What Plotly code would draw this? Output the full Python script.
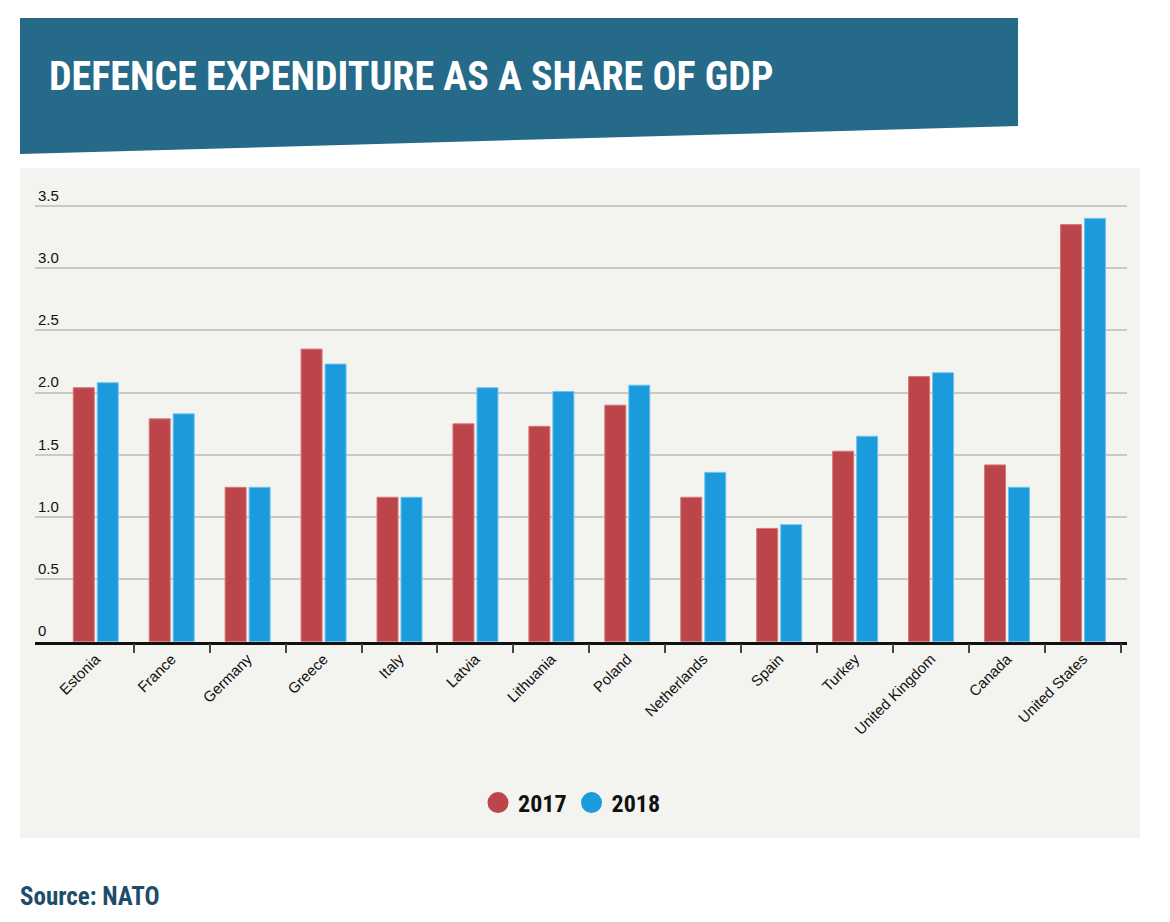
import plotly.graph_objects as go

countries = ["Estonia", "France", "Germany", "Greece", "Italy", "Latvia", "Lithuania",
             "Poland", "Netherlands", "Spain", "Turkey", "United Kingdom", "Canada", "United States"]
values_2017 = [2.04, 1.79, 1.24, 2.35, 1.16, 1.75, 1.73, 1.90, 1.16, 0.91, 1.53, 2.13, 1.42, 3.35]
values_2018 = [2.08, 1.83, 1.24, 2.23, 1.16, 2.04, 2.01, 2.06, 1.36, 0.94, 1.65, 2.16, 1.24, 3.40]
y_ticks = [0, 0.5, 1.0, 1.5, 2.0, 2.5, 3.0, 3.5]
y_tick_labels = ["0", "0.5", "1.0", "1.5", "2.0", "2.5", "3.0", "3.5"]
years = ["2017", "2018"]

W, H = 1170, 922
OFF = 8  # page body margin
RED = "#bb4548"
BLUE = "#1b9bdb"
TEAL = "#256a89"
NARROW = "Liberation Sans Narrow, Arial Narrow, Roboto Condensed, Liberation Sans, Arial, sans-serif"
SANS = "Liberation Sans, Arial, sans-serif"


def px(x):
    return (x - OFF) / W


def py(y):
    return 1 - (y - OFF) / H


fig = go.Figure()
fig.add_trace(go.Bar(x=countries, y=values_2017, name=years[0],
                     marker=dict(color=RED, line=dict(color="#d9777a", width=1)), showlegend=False))
fig.add_trace(go.Bar(x=countries, y=values_2018, name=years[1],
                     marker=dict(color=BLUE, line=dict(color="#6cc3ee", width=1)), showlegend=False))
# legend entries with circular markers
fig.add_trace(go.Scatter(x=[None], y=[None], mode="markers", name=years[0],
                         marker=dict(color=RED, size=16, symbol="circle", line=dict(color=RED, width=5))))
fig.add_trace(go.Scatter(x=[None], y=[None], mode="markers", name=years[1],
                         marker=dict(color=BLUE, size=16, symbol="circle", line=dict(color=BLUE, width=5))))

shapes = [
    dict(type="rect", xref="paper", yref="paper", x0=px(20), x1=px(1140), y0=py(838), y1=py(168),
         fillcolor="#f3f3ef", line=dict(width=0), layer="below"),
    dict(type="path", xref="paper", yref="paper",
         path=f"M {px(20)} {py(18)} L {px(1018)} {py(18)} L {px(1018)} {py(126)} L {px(20)} {py(154)} Z",
         fillcolor=TEAL, line=dict(width=0), layer="below"),
]

annotations = [
    dict(text="DEFENCE EXPENDITURE AS A SHARE OF GDP", xref="paper", yref="paper",
         x=px(47), y=py(76), xanchor="left", yanchor="middle", showarrow=False,
         font=dict(family=NARROW, size=40, color="white", weight="bold")),
    dict(text="Source: NATO", xref="paper", yref="paper",
         x=px(18), y=py(896), xanchor="left", yanchor="middle", showarrow=False,
         font=dict(family=NARROW, size=25, color="#1e4d6b", weight="bold")),
]

fig.update_layout(
    width=W, height=H,
    margin=dict(l=0, r=0, t=0, b=0),
    paper_bgcolor="white",
    plot_bgcolor="rgba(0,0,0,0)",
    barmode="group",
    bargap=0.368,
    bargroupgap=0.125,
    shapes=shapes,
    annotations=annotations,
    legend=dict(orientation="h", x=px(572), y=py(803), xanchor="center", yanchor="middle",
                font=dict(family=NARROW, size=24, color="#111", weight="bold"), bgcolor="rgba(0,0,0,0)",
                itemsizing="trace", traceorder="normal"),
    xaxis=dict(domain=[px(35), px(1127)], range=[-0.8, 13.58], type="category",
               showline=True, linecolor="#111", linewidth=2.5,
               ticks="outside", tickson="boundaries", ticklen=9, tickcolor="#444", tickwidth=1.5,
               tickangle=-45, tickfont=dict(family=SANS, size=15, color="#111"),
               showgrid=False, fixedrange=True),
    yaxis=dict(domain=[py(641.7), py(168.6)], range=[0, 3.8],
               tickvals=y_ticks, ticktext=y_tick_labels, ticklabelposition="inside top",
               tickfont=dict(family=SANS, size=15, color="#111"),
               showgrid=True, gridcolor="#c9c9c5", gridwidth=1.5, zeroline=False,
               showline=False, ticks="", fixedrange=True),
)

fig.write_html("out.html")
